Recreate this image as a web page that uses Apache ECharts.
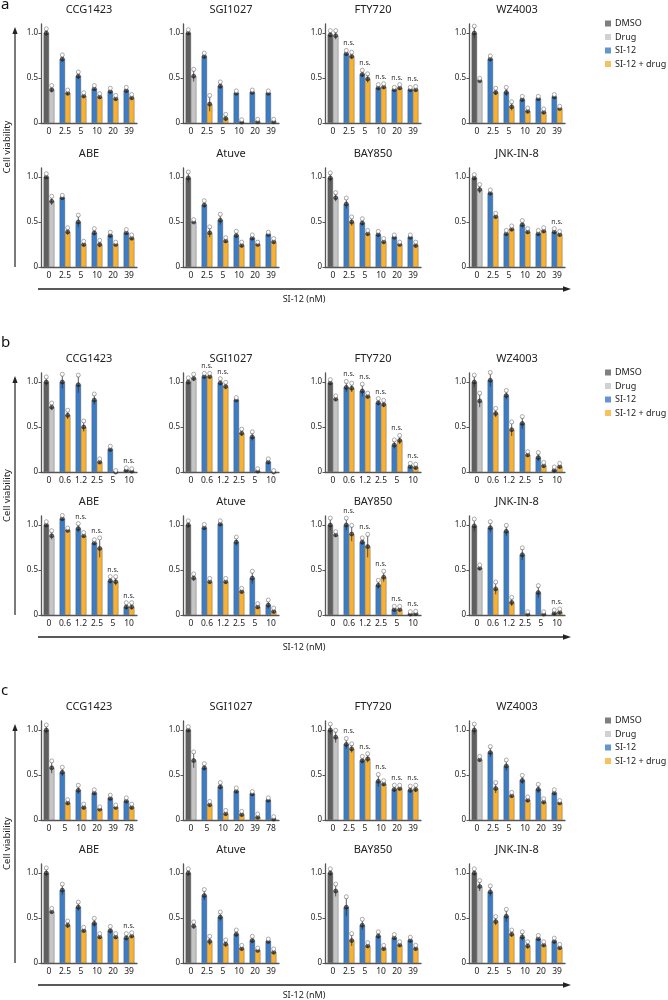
<!DOCTYPE html>
<html>
<head>
<meta charset="utf-8">
<script src="https://cdn.jsdelivr.net/npm/echarts@6/dist/echarts.min.js"></script>
<style>
html, body { margin: 0; padding: 0; background: #fff; }
#main { width: 668px; height: 1000px; }
</style>
</head>
<body>
<div id="main"></div>
<script>
// drugs, doses and legend
var drugs = ['CCG1423', 'SGI1027', 'FTY720', 'WZ4003', 'ABE', 'Atuve', 'BAY850', 'JNK-IN-8'];
var legendNames = ['DMSO', 'Drug', 'SI-12', 'SI-12 + drug'];
var dosesA = ['0', '2.5', '5', '10', '20', '39'];
var dosesB = ['0', '0.6', '1.2', '2.5', '5', '10'];
var dosesC78 = ['0', '5', '10', '20', '39', '78'];

// panel a : first bar = DMSO (0) / SI-12, second bar = Drug (0) / SI-12 + drug
var aFirst = [
	[1.00, 0.71, 0.52, 0.38, 0.35, 0.36],
	[1.00, 0.74, 0.41, 0.33, 0.34, 0.33],
	[0.98, 0.77, 0.54, 0.39, 0.37, 0.37],
	[1.00, 0.71, 0.34, 0.26, 0.27, 0.29],
	[1.00, 0.77, 0.50, 0.38, 0.35, 0.38],
	[0.99, 0.69, 0.52, 0.35, 0.32, 0.36],
	[0.99, 0.70, 0.49, 0.36, 0.33, 0.33],
	[0.99, 0.82, 0.37, 0.47, 0.37, 0.39]
];
var aSecond = [
	[0.37, 0.33, 0.30, 0.29, 0.27, 0.28],
	[0.52, 0.21, 0.05, 0.01, 0.015, 0.015],
	[0.97, 0.74, 0.49, 0.40, 0.39, 0.37],
	[0.47, 0.34, 0.18, 0.13, 0.12, 0.16],
	[0.73, 0.39, 0.25, 0.25, 0.25, 0.32],
	[0.50, 0.38, 0.29, 0.24, 0.25, 0.28],
	[0.77, 0.50, 0.37, 0.28, 0.25, 0.24],
	[0.86, 0.56, 0.42, 0.39, 0.40, 0.36]
];
var aFirstErr = [
	[0.03, 0.03, 0.03, 0.02, 0.02, 0.02],
	[0.02, 0.02, 0.03, 0.01, 0.01, 0.01],
	[0.03, 0.02, 0.03, 0.02, 0.01, 0.01],
	[0.06, 0.02, 0.04, 0.02, 0.01, 0.01],
	[0.02, 0.01, 0.06, 0.03, 0.02, 0.02],
	[0.05, 0.03, 0.05, 0.03, 0.02, 0.01],
	[0.04, 0.05, 0.03, 0.02, 0.01, 0.01],
	[0.02, 0.02, 0.02, 0.03, 0.02, 0.02]
];
var aSecondErr = [
	[0.03, 0.02, 0.02, 0.02, 0.02, 0.02],
	[0.06, 0.08, 0.03, 0.01, 0.01, 0.01],
	[0.04, 0.03, 0.04, 0.02, 0.02, 0.02],
	[0.01, 0.03, 0.04, 0.02, 0.02, 0.01],
	[0.04, 0.03, 0.02, 0.03, 0.01, 0.02],
	[0.01, 0.05, 0.02, 0.02, 0.01, 0.02],
	[0.04, 0.04, 0.02, 0.02, 0.01, 0.02],
	[0.04, 0.02, 0.02, 0.02, 0.02, 0.02]
];
var aNs = [[], [], [1, 2, 3, 4, 5], [], [], [], [], [5]];

// panel b
var bFirst = [
	[1.00, 1.00, 0.97, 0.80, 0.25, 0.02],
	[1.00, 1.06, 0.99, 0.80, 0.39, 0.11],
	[0.99, 0.94, 0.90, 0.77, 0.30, 0.06],
	[1.00, 1.02, 0.85, 0.54, 0.16, 0.02],
	[1.00, 1.07, 0.96, 0.80, 0.38, 0.09],
	[1.00, 0.97, 1.01, 0.81, 0.41, 0.11],
	[1.00, 1.00, 0.81, 0.33, 0.06, 0.01],
	[0.99, 0.97, 0.93, 0.67, 0.25, 0.02]
];
var bSecond = [
	[0.72, 0.63, 0.50, 0.11, 0.00, 0.01],
	[1.04, 1.06, 0.95, 0.43, 0.01, 0.00],
	[0.81, 0.93, 0.84, 0.75, 0.35, 0.05],
	[0.79, 0.65, 0.47, 0.19, 0.07, 0.06],
	[0.88, 0.94, 0.88, 0.74, 0.37, 0.09],
	[0.41, 0.37, 0.37, 0.26, 0.09, 0.04],
	[0.89, 0.90, 0.76, 0.42, 0.06, 0.015],
	[0.52, 0.29, 0.14, 0.01, 0.01, 0.03]
];
var bFirstErr = [
	[0.04, 0.07, 0.09, 0.05, 0.02, 0.01],
	[0.03, 0.02, 0.03, 0.01, 0.04, 0.02],
	[0.02, 0.05, 0.06, 0.03, 0.04, 0.02],
	[0.06, 0.07, 0.04, 0.06, 0.04, 0.02],
	[0.02, 0.02, 0.04, 0.02, 0.03, 0.03],
	[0.03, 0.02, 0.02, 0.04, 0.06, 0.04],
	[0.06, 0.06, 0.03, 0.04, 0.02, 0.01],
	[0.06, 0.05, 0.05, 0.06, 0.06, 0.02]
];
var bSecondErr = [
	[0.03, 0.04, 0.05, 0.02, 0.00, 0.01],
	[0.03, 0.02, 0.03, 0.03, 0.01, 0.00],
	[0.02, 0.04, 0.02, 0.03, 0.04, 0.02],
	[0.07, 0.04, 0.07, 0.02, 0.02, 0.02],
	[0.04, 0.01, 0.02, 0.10, 0.04, 0.03],
	[0.03, 0.02, 0.02, 0.02, 0.02, 0.02],
	[0.02, 0.08, 0.12, 0.05, 0.02, 0.01],
	[0.02, 0.06, 0.04, 0.01, 0.01, 0.02]
];
var bNs = [[5], [1, 2], [1, 2, 3, 4, 5], [], [2, 3, 4, 5], [], [1, 2, 3, 4, 5], [5]];

// panel c
var cFirst = [
	[1.00, 0.53, 0.33, 0.30, 0.24, 0.21],
	[1.00, 0.58, 0.37, 0.32, 0.29, 0.22],
	[1.00, 0.84, 0.66, 0.43, 0.34, 0.33],
	[1.00, 0.75, 0.60, 0.44, 0.34, 0.30],
	[1.00, 0.81, 0.62, 0.44, 0.36, 0.28],
	[1.00, 0.75, 0.51, 0.32, 0.25, 0.24],
	[1.00, 0.62, 0.42, 0.30, 0.28, 0.25],
	[1.00, 0.79, 0.52, 0.29, 0.27, 0.24]
];
var cSecond = [
	[0.58, 0.19, 0.14, 0.12, 0.14, 0.14],
	[0.66, 0.17, 0.07, 0.06, 0.03, 0.01],
	[0.92, 0.79, 0.68, 0.40, 0.35, 0.34],
	[0.67, 0.35, 0.27, 0.22, 0.20, 0.19],
	[0.57, 0.42, 0.36, 0.29, 0.29, 0.30],
	[0.41, 0.24, 0.21, 0.16, 0.14, 0.12],
	[0.80, 0.25, 0.19, 0.16, 0.20, 0.16],
	[0.85, 0.46, 0.32, 0.19, 0.20, 0.17]
];
var cFirstErr = [
	[0.04, 0.04, 0.04, 0.02, 0.02, 0.02],
	[0.02, 0.03, 0.03, 0.02, 0.01, 0.01],
	[0.05, 0.05, 0.03, 0.06, 0.03, 0.03],
	[0.05, 0.05, 0.05, 0.04, 0.04, 0.02],
	[0.04, 0.05, 0.04, 0.04, 0.03, 0.03],
	[0.03, 0.05, 0.04, 0.03, 0.03, 0.01],
	[0.03, 0.10, 0.05, 0.03, 0.02, 0.02],
	[0.03, 0.05, 0.06, 0.04, 0.02, 0.02]
];
var cSecondErr = [
	[0.06, 0.02, 0.02, 0.01, 0.01, 0.02],
	[0.08, 0.02, 0.02, 0.02, 0.02, 0.01],
	[0.06, 0.04, 0.04, 0.02, 0.02, 0.03],
	[0.02, 0.05, 0.02, 0.02, 0.02, 0.01],
	[0.02, 0.03, 0.02, 0.02, 0.02, 0.02],
	[0.03, 0.04, 0.03, 0.02, 0.01, 0.02],
	[0.06, 0.06, 0.02, 0.02, 0.02, 0.02],
	[0.05, 0.04, 0.03, 0.03, 0.02, 0.02]
];
var cNs = [[], [], [1, 2, 3, 4, 5], [], [5], [], [], []];

var colors = ['#5f5f5f', '#c5c5c5', '#3b7cc4', '#f8b133'];
var FONT = 'Noto Sans';

var panels = [
	{ letter: 'a', first: aFirst, second: aSecond, firstErr: aFirstErr, secondErr: aSecondErr, ns: aNs,
	  doses: [dosesA, dosesA, dosesA, dosesA, dosesA, dosesA, dosesA, dosesA], zero: [123, 267] },
	{ letter: 'b', first: bFirst, second: bSecond, firstErr: bFirstErr, secondErr: bSecondErr, ns: bNs,
	  doses: [dosesB, dosesB, dosesB, dosesB, dosesB, dosesB, dosesB, dosesB], zero: [472, 615] },
	{ letter: 'c', first: cFirst, second: cSecond, firstErr: cFirstErr, secondErr: cSecondErr, ns: cNs,
	  doses: [dosesC78, dosesC78, dosesA, dosesA, dosesA, dosesA, dosesA, dosesA], zero: [820, 963] }
];

var gridLefts = [41, 183, 325, 469];
var gridW = 96, gridH = 99;
var BAR = 5.4;

var grids = [], xAxes = [], yAxes = [], series = [], titles = [], legends = [], graphics = [];

var errRender = function(params, api) {
	var cx = api.coord([api.value(0), api.value(1)]);
	var top = api.coord([api.value(0), api.value(1) + api.value(2)]);
	var bot = api.coord([api.value(0), Math.max(0, api.value(1) - api.value(2))]);
	var x = cx[0] + api.value(3) * BAR / 2;
	return {
		type: 'group',
		children: [
			{ type: 'line', shape: { x1: x, y1: top[1], x2: x, y2: bot[1] }, style: { stroke: '#333', lineWidth: 0.8 } },
			{ type: 'line', shape: { x1: x - 1.5, y1: top[1], x2: x + 1.5, y2: top[1] }, style: { stroke: '#333', lineWidth: 0.8 } },
			{ type: 'circle', shape: { cx: x, cy: cx[1], r: 2 }, style: { fill: 'rgba(30,30,30,0.6)', stroke: '#222', lineWidth: 0.6 } },
			{ type: 'circle', shape: { cx: x, cy: top[1] - 1.5, r: 2 }, style: { fill: '#fff', stroke: '#777', lineWidth: 0.6 } }
		]
	};
};

var nsRender = function(params, api) {
	var p = api.coord([api.value(0), api.value(1)]);
	return {
		type: 'text',
		style: { x: p[0], y: p[1] - 5, text: 'n.s.', fontSize: 7, fontFamily: FONT, fill: '#333',
			align: 'center', verticalAlign: 'bottom' }
	};
};

panels.forEach(function(P, pi) {
	for (var d = 0; d < 8; d++) {
		var row = Math.floor(d / 4), col = d % 4;
		var g = grids.length;
		var zero = P.zero[row];
		var top = zero - gridH;
		grids.push({ left: gridLefts[col], top: top, width: gridW, height: gridH });
		xAxes.push({
			type: 'category', gridIndex: g, data: P.doses[d],
			axisLine: { lineStyle: { color: '#555', width: 1.3 } },
			axisTick: { show: false },
			axisLabel: { fontSize: 8.5, margin: 4, color: '#222', interval: 0, fontFamily: FONT }
		});
		yAxes.push({
			type: 'value', gridIndex: g, min: 0, max: 1.1,
			axisLine: { show: true, lineStyle: { color: '#555', width: 1.3 } },
			axisTick: { show: true, length: 2.5, customValues: [0, 0.5, 1], lineStyle: { color: '#555' } },
			axisLabel: { customValues: [0, 0.5, 1], fontSize: 8, margin: 3, color: '#222', fontFamily: FONT,
				formatter: function(v) { return v === 0 ? '0' : v.toFixed(1); } },
			splitLine: { show: false }
		});
		titles.push({
			text: drugs[d], left: gridLefts[col] + gridW / 2, top: top - 20, textAlign: 'center', padding: 0,
			textStyle: { fontSize: 11, fontWeight: 'normal', color: '#222', fontFamily: FONT }
		});
		var f = P.first[d], s = P.second[d], fe = P.firstErr[d], se = P.secondErr[d];
		series.push({
			type: 'bar', xAxisIndex: g, yAxisIndex: g, barWidth: BAR, barGap: '0%', silent: true,
			data: f.map(function(v, i) { return { value: v, itemStyle: { color: i === 0 ? colors[0] : colors[2] } }; }),
			itemStyle: { borderColor: '#555', borderWidth: 0.4 }
		});
		series.push({
			type: 'bar', xAxisIndex: g, yAxisIndex: g, barWidth: BAR, barGap: '0%', silent: true,
			data: s.map(function(v, i) { return { value: v, itemStyle: { color: i === 0 ? colors[1] : colors[3] } }; }),
			itemStyle: { borderColor: '#555', borderWidth: 0.4 }
		});
		var errData = [];
		for (var i = 0; i < f.length; i++) {
			errData.push([i, f[i], fe[i], -1]);
			errData.push([i, s[i], se[i], 1]);
		}
		series.push({ type: 'custom', xAxisIndex: g, yAxisIndex: g, renderItem: errRender, data: errData, z: 5, silent: true });
		var nsData = P.ns[d].map(function(i) { return [i, Math.max(f[i] + fe[i], s[i] + se[i])]; });
		if (nsData.length) {
			series.push({ type: 'custom', xAxisIndex: g, yAxisIndex: g, renderItem: nsRender, data: nsData, z: 6, silent: true });
		}
	}

	var z0 = P.zero[0], z1 = P.zero[1];
	legends.push({
		data: legendNames, orient: 'vertical', left: 605, top: z0 - gridH - 5, icon: 'rect',
		itemWidth: 6, itemHeight: 6, itemGap: 4.5, padding: 0, selectedMode: false,
		textStyle: { fontSize: 9, color: '#222', fontFamily: FONT, padding: [0, 0, 0, -1] }
	});
	var arrowTop = z0 - gridH + 3, arrowX = 15;
	var hY = z1 + 22;
	graphics.push(
		{ type: 'text', left: 1, top: z0 - gridH - (pi === 0 ? 27 : 38), style: { text: P.letter, fontSize: 15, fontFamily: FONT, fill: '#111' } },
		{ type: 'line', shape: { x1: arrowX, y1: z1, x2: arrowX, y2: arrowTop + 5 }, style: { stroke: '#222', lineWidth: 1.2 } },
		{ type: 'polygon', shape: { points: [[arrowX, arrowTop], [arrowX - 2.6, arrowTop + 7], [arrowX + 2.6, arrowTop + 7]] }, style: { fill: '#222' } },
		{ type: 'line', shape: { x1: 38, y1: hY, x2: 564, y2: hY }, style: { stroke: '#222', lineWidth: 1.4 } },
		{ type: 'polygon', shape: { points: [[571, hY], [563, hY - 2.8], [563, hY + 2.8]] }, style: { fill: '#222' } },
		{ type: 'text', x: 304, y: hY + 10, style: { text: 'SI-12 (nM)', fontSize: 9, fontFamily: FONT, fill: '#222', align: 'center', verticalAlign: 'middle' } },
		{ type: 'text', x: 7, y: (arrowTop + z1) / 2, rotation: Math.PI / 2,
		  style: { text: 'Cell viability', fontSize: 9.5, fontFamily: FONT, fill: '#222', align: 'center', verticalAlign: 'middle' } }
	);
});

// dummy series so the legends show the four groups
legendNames.forEach(function(n, i) {
	series.push({ name: n, type: 'scatter', xAxisIndex: 0, yAxisIndex: 0, data: [], itemStyle: { color: colors[i] } });
});

var myChart = echarts.init(document.getElementById('main'), null, { renderer: 'canvas' });
myChart.setOption({
	animation: false,
	backgroundColor: '#fff',
	title: titles,
	legend: legends,
	grid: grids,
	xAxis: xAxes,
	yAxis: yAxes,
	series: series,
	graphic: graphics
});
</script>
</body>
</html>
